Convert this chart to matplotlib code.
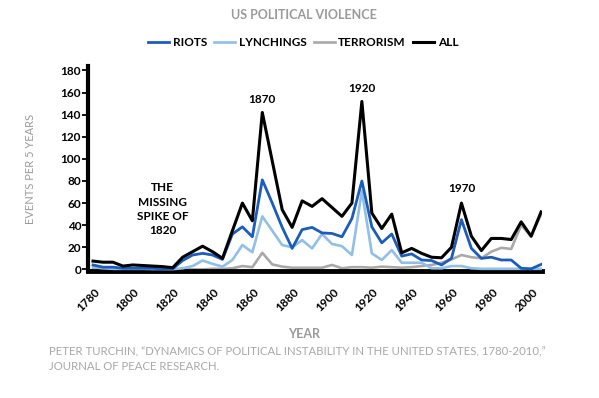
import matplotlib
matplotlib.use("Agg")
import matplotlib.pyplot as plt

# mid-points of the 5-year bins
years = [1782.5 + 5 * i for i in range(46)]

riots = [4, 2, 2, 1, 1, 1, 1, 0.5, 0.5, 8,
         13, 14.5, 13, 9, 32, 38.5, 29.5, 81, 60, 38,
         19, 36, 38, 33, 32.5, 29.5, 46, 80, 38.5, 24,
         32, 12, 14, 8.5, 8, 4, 10, 45, 19, 10,
         11, 8.5, 8.5, 1, 0.5, 4.5]
lynchings = [2, 1, 0.5, 0.5, 0.5, 0.5, 0.3, 0.3, 0.2, 1,
             3, 8, 5, 2.5, 8.5, 22, 15.5, 48, 35, 22,
             20, 26.5, 19, 32, 23, 21, 13, 71, 14.5, 8.5,
             17.5, 6, 6, 6, 1, 1, 3, 3, 1, 0.5,
             0.5, 0.5, 0.5, 0.5, 0.5, 0.5]
terrorism = [0, 0, 0, 0, 0, 0, 0, 0, 0, 0,
             0, 0, 0.5, 0.5, 1, 3, 2, 15, 4.5, 2.5,
             1.5, 1.5, 1.5, 1.5, 4, 1, 2, 2, 1.5, 2.5,
             2, 1.5, 2, 3, 4, 6, 9, 13, 11, 10,
             16, 19.5, 18.5, 40, 30, 50]
all_events = [7.5, 6.5, 6.5, 3, 4, 3.5, 3, 2.5, 1.5, 11,
              16, 21, 16, 10, 35, 60, 44, 142, 98, 54,
              38, 62, 57, 64, 56, 48, 60, 152, 51, 37,
              50, 15, 19, 14.5, 11, 10.5, 20, 60, 30, 17,
              28, 28, 27, 43, 30, 52]

xticks = list(range(1780, 2001, 20))
yticks = list(range(0, 181, 20))

plt.rcParams['font.family'] = ['Lato', 'DejaVu Sans']

fig = plt.figure(figsize=(5.99, 3.98), dpi=100)
ax = fig.add_axes([0.147, 0.319, 0.758, 0.515])

ax.plot(years, terrorism, color='#a9a9a9', lw=1.9, label='TERRORISM', zorder=2)
ax.plot(years, lynchings, color='#90bfe9', lw=1.9, label='LYNCHINGS', zorder=3)
ax.plot(years, riots, color='#1c5cbc', lw=2.0, label='RIOTS', zorder=4)
ax.plot(years, all_events, color='black', lw=2.2, label='ALL', zorder=5)

ax.set_xlim(1780, 2008)
ax.set_ylim(-1.5, 184)

ax.set_xticks(xticks)
ax.set_xticklabels([str(t) for t in xticks], rotation=45, ha='center',
                   fontsize=8.5, fontweight='bold')
ax.set_yticks(yticks)
ax.set_yticklabels([str(t) for t in yticks], fontsize=8.5, fontweight='bold')
ax.tick_params(axis='x', length=0, pad=11)
ax.tick_params(axis='y', length=4, width=1.3, pad=1)

for s in ['top', 'right']:
    ax.spines[s].set_visible(False)
ax.spines['left'].set_linewidth(3)
ax.spines['bottom'].set_linewidth(3.5)

ax.set_xlabel('YEAR', color='#9a9a9a', fontsize=9, fontweight='bold')
ax.xaxis.set_label_coords(0.475, -0.28)
ax.set_ylabel('EVENTS PER 5 YEARS', color='#9a9a9a', fontsize=8, labelpad=18)

# peak annotations
ax.text(1867.5, 154, '1870', ha='center', va='center', fontsize=8.5, fontweight='bold')
ax.text(1917.5, 164, '1920', ha='center', va='center', fontsize=8.5, fontweight='bold')
ax.text(1967.5, 73, '1970', ha='center', va='center', fontsize=8.5, fontweight='bold')
ax.text(1817.5, 54.5, 'THE\nMISSING\nSPIKE OF\n1820', ha='center', va='center',
        fontsize=8.5, fontweight='bold', linespacing=1.35)

fig.text(0.507, 0.962, 'US POLITICAL VIOLENCE', ha='center', va='center',
         color='#9a9a9a', fontsize=9, fontweight='bold')

handles, labels = ax.get_legend_handles_labels()
order = [2, 1, 0, 3]
fig.legend([handles[i] for i in order], [labels[i] for i in order],
           loc='center', bbox_to_anchor=(0.506, 0.893), ncol=4, frameon=False,
           handlelength=1.8, handletextpad=0.3, columnspacing=0.6,
           prop={'size': 8.5, 'weight': 'bold'})

fig.text(0.082, 0.098,
         'PETER TURCHIN, \u201cDYNAMICS OF POLITICAL INSTABILITY IN THE UNITED STATES, 1780-2010,\u201d\nJOURNAL OF PEACE RESEARCH.',
         ha='left', va='center', color='#a8a8a8', fontsize=8.2, linespacing=1.35)

fig.savefig('out.png', dpi=100)
